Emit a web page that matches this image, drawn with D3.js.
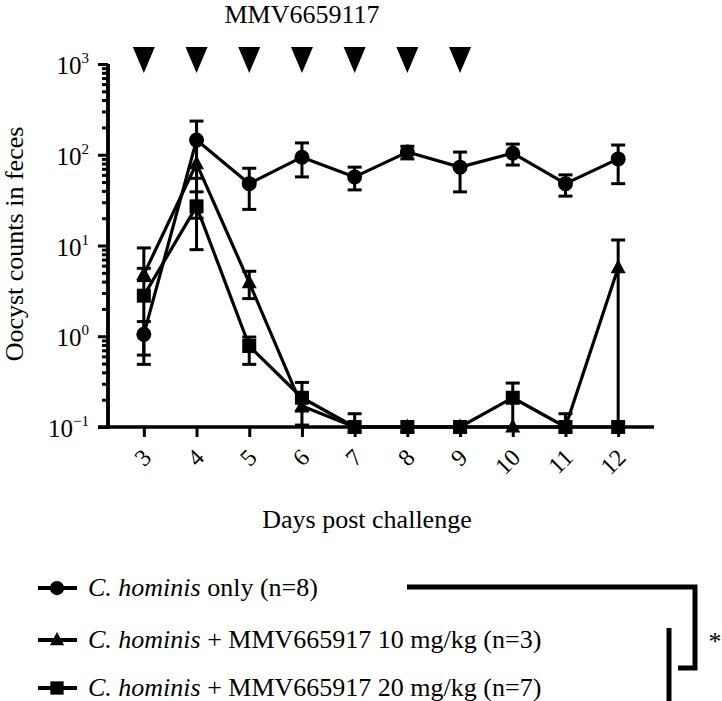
<!DOCTYPE html>
<html>
<head>
<meta charset="utf-8">
<script src="https://cdn.jsdelivr.net/npm/d3@7"></script>
<style>
  html, body { margin: 0; padding: 0; background: #fff; }
  svg { display: block; }
</style>
</head>
<body>
<svg id="chart" width="722" height="701" font-family="'Liberation Serif', 'DejaVu Serif', 'Noto Serif', serif"></svg>
<script>
// ---------------- data ----------------
const days = [3, 4, 5, 6, 7, 8, 9, 10, 11, 12];
const dosingDays = [3, 4, 5, 6, 7, 8, 9];
const yTickExponents = [-1, 0, 1, 2, 3];

const onlyMean = [1.05, 145, 48, 94, 57, 107, 73, 104, 48, 90];
const onlyLow  = [0.49, 55, 25, 57, 41, 90, 39, 77, 35, 48];
const onlyHigh = [1.45, 235, 71, 135, 73, 124, 107, 131, 60, 128];

const dose10Mean = [4.8, 80, 3.9, 0.17, 0.1, 0.1, 0.1, 0.1, 0.1, 5.7];
const dose10Low  = [4.1, 9, 2.6, 0.105, 0.1, 0.1, 0.1, 0.1, 0.1, 0.1];
const dose10High = [5.6, 145, 5.2, 0.21, 0.1, 0.1, 0.1, 0.1, 0.1, 11.5];

const dose20Mean = [2.8, 27, 0.78, 0.21, 0.1, 0.1, 0.1, 0.21, 0.1, 0.1];
const dose20Low  = [0.62, 20, 0.49, 0.15, 0.1, 0.1, 0.1, 0.1, 0.1, 0.1];
const dose20High = [9.4, 39, 0.98, 0.31, 0.14, 0.1, 0.1, 0.305, 0.14, 0.1];

const legendItalic = ["C. hominis", "C. hominis", "C. hominis"];
const legendRest = [" only (n=8)", " + MMV665917 10 mg/kg (n=3)", " + MMV665917 20 mg/kg (n=7)"];
const seriesShapes = ["circle", "triangle", "square"];

const titleText = "MMV6659117";
const yLabel = "Oocyst counts in feces";
const xLabel = "Days post challenge";
const sigText = "*";

// ---------------- drawing ----------------
const FONT = "'Liberation Serif', 'DejaVu Serif', 'Noto Serif', serif";
const svg = d3.select("#chart");

const x = d3.scaleLinear().domain([2.32, 12.68]).range([108, 654]);
const y = d3.scaleLog().domain([0.1, 1000]).range([427, 64]);

const minorTicks = [];
yTickExponents.slice(0, -1).forEach(e => {
  for (let k = 2; k <= 9; k++) minorTicks.push(k * Math.pow(10, e));
});
const majorTicks = yTickExponents.map(e => Math.pow(10, e));

const yAxisMinor = d3.axisLeft(y).tickValues(minorTicks).tickSize(6).tickSizeOuter(0).tickFormat("");
const yAxisMajor = d3.axisLeft(y).tickValues(majorTicks).tickSize(10).tickSizeOuter(0).tickFormat("");

const gyMin = svg.append("g").attr("transform", "translate(108,0)").call(yAxisMinor);
const gyMaj = svg.append("g").attr("transform", "translate(108,0)").call(yAxisMajor);
[gyMin, gyMaj].forEach(g => {
  g.selectAll("line").attr("stroke", "#000").attr("stroke-width", 3);
  g.select(".domain").attr("stroke", "#000").attr("stroke-width", 3.5)
    .attr("d", `M0,${y(0.1) + 1.5}V${y(1000)}`);
});

function addText(sel) {
  return sel.append("text").attr("font-family", FONT).attr("fill", "#000");
}

yTickExponents.forEach(e => {
  const t = addText(svg)
    .attr("x", 89)
    .attr("y", y(Math.pow(10, e)) + 10)
    .attr("text-anchor", "end")
    .attr("font-size", 25);
  t.append("tspan").text("10");
  t.append("tspan").attr("dy", -11).attr("font-size", 15)
    .text(e < 0 ? "\u2212" + Math.abs(e) : String(e));
});

const xAxis = d3.axisBottom(x).tickValues(days).tickSize(10).tickSizeOuter(0).tickFormat("");
const gx = svg.append("g").attr("transform", `translate(0,${y(0.1)})`).call(xAxis);
gx.selectAll("line").attr("stroke", "#000").attr("stroke-width", 3);
gx.select(".domain").attr("stroke", "#000").attr("stroke-width", 3.5)
  .attr("d", `M${108 - 10},0H654`);

days.forEach(d => {
  addText(svg)
    .attr("transform", `translate(${x(d) + 9},459) rotate(-45)`)
    .attr("text-anchor", "end")
    .attr("font-size", 24)
    .text(String(d));
});

addText(svg)
  .attr("transform", "translate(23,244) rotate(-90)")
  .attr("text-anchor", "middle")
  .attr("font-size", 26)
  .text(yLabel);

addText(svg)
  .attr("x", 367).attr("y", 528)
  .attr("text-anchor", "middle")
  .attr("font-size", 26)
  .text(xLabel);

addText(svg)
  .attr("x", 302).attr("y", 23)
  .attr("text-anchor", "middle")
  .attr("font-size", 26)
  .text(titleText);

svg.append("g").selectAll("path").data(dosingDays).join("path")
  .attr("d", d => {
    const cx = x(d), top = 47;
    return `M${cx - 11},${top}L${cx + 11},${top}L${cx},${top + 26}Z`;
  })
  .attr("fill", "#000");

function drawMarker(g, shape, cx, cy, scale) {
  scale = scale || 1;
  if (shape === "circle") {
    g.append("circle").attr("cx", cx).attr("cy", cy).attr("r", 7.5 * scale).attr("fill", "#000");
  } else if (shape === "square") {
    const s = 14 * scale;
    g.append("rect").attr("x", cx - s / 2).attr("y", cy - s / 2).attr("width", s).attr("height", s).attr("fill", "#000");
  } else {
    const w = 15 * scale, h = 14 * scale;
    g.append("path").attr("d", `M${cx},${cy - h * 0.6}L${cx + w / 2},${cy + h * 0.4}L${cx - w / 2},${cy + h * 0.4}Z`).attr("fill", "#000");
  }
}

const series = [
  { shape: "square", mean: dose20Mean, low: dose20Low, high: dose20High },
  { shape: "triangle", mean: dose10Mean, low: dose10Low, high: dose10High },
  { shape: "circle", mean: onlyMean, low: onlyLow, high: onlyHigh }
];

const line = d3.line().x((d, i) => x(days[i])).y(d => y(d));
const plot = svg.append("g");

series.forEach(s => {
  plot.append("path").datum(s.mean).attr("d", line)
    .attr("fill", "none").attr("stroke", "#000").attr("stroke-width", 3.2)
    .attr("stroke-linejoin", "round");
});

series.forEach(s => {
  const g = plot.append("g");
  days.forEach((d, i) => {
    const cx = x(d);
    const yl = y(s.low[i]), yh = y(s.high[i]), ym = y(s.mean[i]);
    if (s.low[i] < s.mean[i] || s.high[i] > s.mean[i]) {
      g.append("line").attr("x1", cx).attr("x2", cx).attr("y1", yl).attr("y2", yh)
        .attr("stroke", "#000").attr("stroke-width", 3);
    }
    if (s.high[i] > s.mean[i]) {
      g.append("line").attr("x1", cx - 7).attr("x2", cx + 7).attr("y1", yh).attr("y2", yh)
        .attr("stroke", "#000").attr("stroke-width", 3);
    }
    if (s.low[i] < s.mean[i]) {
      g.append("line").attr("x1", cx - 7).attr("x2", cx + 7).attr("y1", yl).attr("y2", yl)
        .attr("stroke", "#000").attr("stroke-width", 3);
    }
    drawMarker(g, s.shape, cx, ym);
  });
});

const legendRows = [588, 640, 688];
const lg = svg.append("g");
seriesShapes.forEach((shape, i) => {
  const ry = legendRows[i];
  lg.append("line").attr("x1", 38).attr("x2", 77).attr("y1", ry).attr("y2", ry)
    .attr("stroke", "#000").attr("stroke-width", 4);
  drawMarker(lg, shape, 57, ry, 0.95);
  const t = addText(lg).attr("x", 88).attr("y", ry + 8).attr("font-size", 26);
  t.append("tspan").attr("font-style", "italic").text(legendItalic[i]);
  t.append("tspan").text(legendRest[i]);
});

const br = svg.append("g").attr("fill", "none").attr("stroke", "#000").attr("stroke-width", 5);
br.append("path").attr("d", "M407,587H695V668H678");
br.append("path").attr("d", "M669,628V701");
addText(svg).attr("x", 715).attr("y", 650).attr("text-anchor", "middle")
  .attr("font-size", 26).text(sigText);
</script>
</body>
</html>
